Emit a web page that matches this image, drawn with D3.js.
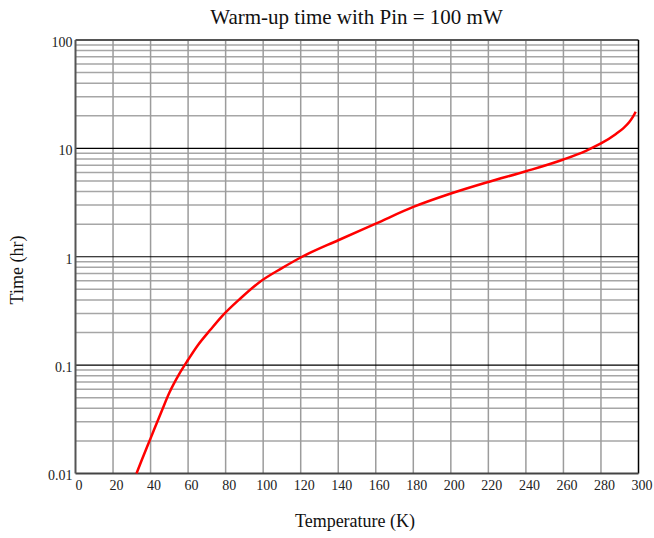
<!DOCTYPE html>
<html>
<head>
<meta charset="utf-8">
<script src="https://cdnjs.cloudflare.com/ajax/libs/d3/7.8.5/d3.min.js"></script>
<style>
  body { margin: 0; background: #fff; }
  svg { display: block; }
  .tick text { font-family: "Liberation Serif", "Times New Roman", serif; font-size: 14px; fill: #222; }
  .lbl { font-family: "Liberation Serif", "Times New Roman", serif; fill: #111; }
</style>
</head>
<body>
<div id="chart"></div>
<script>

var W = 654, H = 538;
var margin = {top: 40, right: 15.5, bottom: 64.5, left: 75.5};
var width = W - margin.left - margin.right;
var height = H - margin.top - margin.bottom;

// values
var temps = [32.5, 35, 38, 40, 42, 46, 50, 55, 60, 65, 72, 78, 88, 98, 110, 120, 140, 160, 180, 200, 220, 240, 260, 272, 280, 288, 292, 295, 297, 298.5];
var times = [0.01, 0.0129, 0.0174, 0.0211, 0.0257, 0.038, 0.0556, 0.0813, 0.112, 0.151, 0.213, 0.282, 0.414, 0.582, 0.785, 0.984, 1.42, 2.02, 2.88, 3.83, 4.9, 6.15, 7.9, 9.5, 11.1, 13.6, 15.4, 17.4, 19.5, 21.8];

var xTicks = [0, 20, 40, 60, 80, 100, 120, 140, 160, 180, 200, 220, 240, 260, 280, 300];
var yTicks = [0.01, 0.1, 1, 10, 100];
var yTickLabels = ["0.01", "0.1", "1", "10", "100"];
var minorSteps = [2, 3, 4, 5, 6, 7, 8, 9];

var yMinor = [];
yTicks.slice(0, -1).forEach(function(d) {
  minorSteps.forEach(function(m) { yMinor.push(d * m); });
});

var svg = d3.select("#chart").append("svg")
  .attr("width", W)
  .attr("height", H);

var g = svg.append("g")
  .attr("transform", "translate(" + margin.left + "," + margin.top + ")");

var x = d3.scaleLinear().domain([0, 300]).range([0, width]);
var y = d3.scaleLog().domain([0.01, 100]).range([height, 0]);

// minor horizontal grid
g.append("g")
  .selectAll("line")
  .data(yMinor)
  .enter().append("line")
  .attr("x1", 0).attr("x2", width)
  .attr("y1", function(d) { return y(d); })
  .attr("y2", function(d) { return y(d); })
  .attr("stroke", "#a6a6a6")
  .attr("stroke-width", 1.5);

// vertical grid
g.append("g")
  .selectAll("line")
  .data(xTicks.slice(1, -1))
  .enter().append("line")
  .attr("x1", function(d) { return x(d); })
  .attr("x2", function(d) { return x(d); })
  .attr("y1", 0).attr("y2", height)
  .attr("stroke", "#9c9c9c")
  .attr("stroke-width", 1.5);

// decade lines
g.append("g")
  .selectAll("line")
  .data(yTicks.slice(1, -1))
  .enter().append("line")
  .attr("x1", 0).attr("x2", width)
  .attr("y1", function(d) { return y(d); })
  .attr("y2", function(d) { return y(d); })
  .attr("stroke", "#000")
  .attr("stroke-width", 1.2);

// frame
g.append("line").attr("x1", 0).attr("x2", width).attr("y1", 0).attr("y2", 0)
  .attr("stroke", "#555").attr("stroke-width", 2);
g.append("line").attr("x1", width).attr("x2", width).attr("y1", 0).attr("y2", height)
  .attr("stroke", "#000").attr("stroke-width", 1.5);
g.append("line").attr("x1", 0).attr("x2", width).attr("y1", height).attr("y2", height)
  .attr("stroke", "#444").attr("stroke-width", 2);
g.append("line").attr("x1", 0).attr("x2", 0).attr("y1", 0).attr("y2", height)
  .attr("stroke", "#555").attr("stroke-width", 2);

// axes (labels only)
var xAxis = g.append("g")
  .attr("transform", "translate(0," + height + ")")
  .call(d3.axisBottom(x).tickValues(xTicks).tickSize(0).tickPadding(7).tickFormat(d3.format("d")));
xAxis.select(".domain").remove();
xAxis.selectAll("text").attr("dx", 3);

var yAxis = g.append("g")
  .call(d3.axisLeft(y).tickValues(yTicks).tickSize(0).tickPadding(3)
    .tickFormat(function(d, i) { return yTickLabels[i]; }));
yAxis.select(".domain").remove();
yAxis.selectAll("text").attr("dy", "0.45em");

// curve
var pts = temps.map(function(t, i) { return [t, times[i]]; });
var line = d3.line()
  .x(function(d) { return x(d[0]); })
  .y(function(d) { return y(d[1]); })
  .curve(d3.curveMonotoneX);

g.append("path")
  .datum(pts)
  .attr("d", line)
  .attr("fill", "none")
  .attr("stroke", "#ff0000")
  .attr("stroke-width", 2.5)
  .attr("stroke-linejoin", "round");

// titles
svg.append("text")
  .attr("class", "lbl")
  .attr("x", 356.5).attr("y", 24)
  .attr("text-anchor", "middle")
  .style("font-size", "21px")
  .text("Warm-up time with Pin = 100 mW");

svg.append("text")
  .attr("class", "lbl")
  .attr("x", 355).attr("y", 527)
  .attr("text-anchor", "middle")
  .style("font-size", "18px")
  .text("Temperature (K)");

svg.append("text")
  .attr("class", "lbl")
  .attr("transform", "translate(23,270) rotate(-90)")
  .attr("text-anchor", "middle")
  .style("font-size", "18px")
  .text("Time (hr)");

</script>
</body>
</html>
